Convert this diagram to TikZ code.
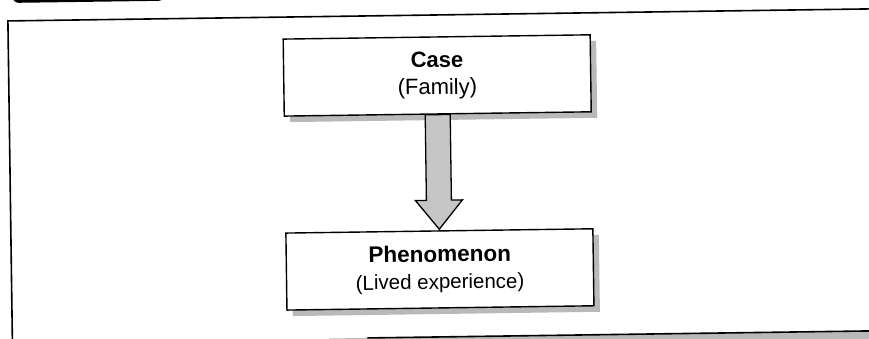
\documentclass[tikz,border=0pt]{standalone}
\usepackage{fontspec}
\setmainfont{Liberation Sans}
\usetikzlibrary{calc,shadows}
\begin{document}
\begin{tikzpicture}[x=1pt,y=-1pt,
  frameline/.style={line width=1.6pt, black},
  boxnode/.style={draw=black, line width=1.4pt, fill=white,
    minimum width=307pt, minimum height=77pt, inner sep=0pt, align=center,
    drop shadow={shadow xshift=6pt, shadow yshift=-6pt, fill=gray!55, opacity=1}},
  arrowshape/.style={draw=black, line width=1.3pt, fill=gray!45, line join=miter},
  boxtext/.style={font=\fontsize{22}{27}\selectfont}
  ]
\useasboundingbox (0,0) rectangle (869,338);
\fill[white] (0,0) rectangle (869,338);
\begin{scope}[rotate around={0.8:(434,169)}, transform shape]
  % heading tab, cut off at the top edge
  \fill[black, rounded corners=6pt] (15,-30) rectangle (167,-3);
  % outer frame
  \draw[frameline] (10,350) -- (10,15) -- (890,15);
  % shaded band along the lower edge
  \fill[gray!55] (327,337) rectangle (890,350);
  \draw[line width=1.6pt] (365,337) -- (890,337);
  % the two boxes
  \node[boxnode, boxtext] (case) at (438.5,75.5) {\textbf{Case}\\(Family)};
  \node[boxnode, boxtext] (phen) at (438.5,269.5)
    {{\fontsize{22.5}{27}\selectfont\textbf{Phenomenon}}\\{\fontsize{20.5}{27}\selectfont(Lived experience)}};
  % block arrow from case to phenomenon
  \draw[arrowshape]
    ($(case.south)+(-12.5,0)$) -- ($(case.south)+(12.5,0)$)
    -- ($(phen.north)+(12.5,-30)$) -- ($(phen.north)+(23.5,-30)$)
    -- ($(phen.north)+(0,-1)$)
    -- ($(phen.north)+(-23.5,-30)$) -- ($(phen.north)+(-12.5,-30)$) -- cycle;
\end{scope}
\end{tikzpicture}
\end{document}
